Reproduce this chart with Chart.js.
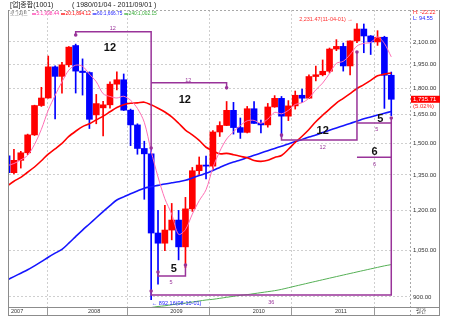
<!DOCTYPE html>
<html>
<head>
<meta charset="utf-8">
<script src="https://cdn.jsdelivr.net/npm/chart.js@4.4.0/dist/chart.umd.min.js"></script>
<style>
  html, body { margin: 0; padding: 0; background: #fff; }
  canvas { display: block; }
</style>
</head>
<body>
<canvas id="myChart" width="450" height="326"></canvas>
<script>
"use strict";

// monthly candles, index 0 = 2007-01 ... index 56 = 2011-09
const openPrices = [
  1438, 1360, 1417, 1453, 1542, 1700, 1743, 1933, 1873, 1946, 2075, 1906,
  1897, 1648, 1687, 1704, 1825, 1852, 1674, 1594, 1474, 1448, 1113, 1076,
  1124, 1162, 1063, 1206, 1369, 1395, 1390, 1557, 1591, 1673, 1580, 1555,
  1682, 1602, 1594, 1692, 1741, 1641, 1698, 1759, 1742, 1872, 1883, 1905,
  2051, 2069, 1939, 2107, 2192, 2142, 2100, 2133, 1880
];
const highPrices = [
  1440, 1470, 1460, 1546, 1702, 1806, 2004, 1940, 1963, 2068, 2085, 1985,
  1901, 1764, 1724, 1840, 1901, 1888, 1680, 1600, 1510, 1480, 1200, 1220,
  1228, 1200, 1253, 1384, 1433, 1437, 1564, 1611, 1723, 1718, 1631, 1695,
  1723, 1620, 1712, 1757, 1752, 1728, 1784, 1796, 1882, 1938, 1978, 2058,
  2116, 2092, 2107, 2231.47, 2229, 2145, 2180, 2140, 1900
];
const lowPrices = [
  1345, 1354, 1381, 1444, 1539, 1695, 1742, 1626, 1772, 1933, 1772, 1760,
  1575, 1600, 1537, 1685, 1791, 1672, 1488, 1446, 1245, 892.16, 939, 1050,
  1088, 1018, 992, 1196, 1352, 1332, 1375, 1534, 1590, 1546, 1524, 1552,
  1602, 1552, 1582, 1690, 1532, 1617, 1680, 1716, 1740, 1845, 1876, 1894,
  2040, 1906, 1882, 2095, 2026, 2014, 2076, 1684, 1644
];
const closePrices = [
  1360, 1417, 1453, 1542, 1700, 1743, 1933, 1873, 1946, 2064, 1906, 1897,
  1624, 1711, 1704, 1825, 1852, 1674, 1594, 1474, 1448, 1113, 1076, 1124,
  1162, 1063, 1206, 1369, 1395, 1390, 1557, 1591, 1673, 1580, 1555, 1682,
  1602, 1594, 1692, 1741, 1641, 1698, 1759, 1742, 1872, 1883, 1905, 2051,
  2069, 1939, 2107, 2192, 2142, 2100, 2133, 1880, 1735.71
];

// moving averages
const ma5 = [
  1392, 1402, 1419, 1441, 1494, 1571, 1674, 1758, 1839, 1912, 1944, 1937,
  1887, 1840, 1768, 1752, 1743, 1753, 1730, 1684, 1608, 1461, 1341, 1247,
  1185, 1108, 1126, 1185, 1239, 1285, 1383, 1460, 1521, 1558, 1591, 1616,
  1618, 1603, 1625, 1662, 1654, 1673, 1706, 1716, 1742, 1791, 1832, 1891,
  1956, 1969, 2014, 2072, 2090, 2096, 2135, 2089, 1998.44
];
const ma20 = [
  1301, 1322, 1339, 1362, 1386, 1415, 1447, 1472, 1499, 1534, 1561, 1585,
  1600, 1621, 1641, 1665, 1689, 1705, 1713, 1715, 1719, 1704, 1685, 1664,
  1637, 1603, 1567, 1542, 1514, 1480, 1463, 1448, 1450, 1444, 1436, 1429,
  1416, 1412, 1417, 1431, 1440, 1470, 1504, 1535, 1570, 1611, 1646, 1680,
  1714, 1741, 1769, 1799, 1822, 1848, 1877, 1887, 1894.12
];
const ma60 = [
  952, 963, 974, 985, 998, 1012, 1027, 1041, 1054, 1076, 1100, 1124,
  1147, 1171, 1195, 1219, 1242, 1255, 1268, 1280, 1292, 1298, 1304, 1310,
  1315, 1320, 1326, 1336, 1347, 1357, 1370, 1384, 1398, 1409, 1419, 1430,
  1441, 1452, 1463, 1474, 1485, 1496, 1508, 1519, 1531, 1542, 1554, 1566,
  1578, 1590, 1602, 1614, 1627, 1637, 1647, 1657, 1666.75
];
const ma240 = [
  null, null, null, null, null, null, null, null, null, null, null, null,
  null, null, null, null, null, null, null, 858, 866, 869, 872, 874,
  877, 880, 882, 885, 888, 891, 893, 896, 899, 902, 905, 907,
  910, 913, 916, 919, 923, 928, 933, 938, 943, 948, 953, 958,
  963, 968, 973, 978, 983, 988, 993, 998, 1002.15
];

const yearLabels = ["2007", "2008", "2009", "2010", "2011"];
const yearBreaks = [11.5, 23.5, 35.5, 47.5];
const priceTicks = [900, 1050, 1200, 1350, 1500, 1650, 1800, 1950, 2100];

// period brackets drawn over the candles (month index, price)
const purple = "#993399";
const bracketLines = [
  [[10, 2149], [10, 2172], [21, 2172], [21, 1476]],
  [[21, 1833], [32, 1833], [32, 1803]],
  [[22, 978], [22, 965], [26, 965], [26, 1001]],
  [[21, 918], [21, 906], [56, 906], [56, 1631]],
  [[40, 1541], [40, 1516], [51, 1516], [51, 2031]],
  [[51, 1604], [56, 1604]],
  [[51, 1432], [56, 1432]]
];
const bracketDots = [[10, 2149], [21, 1476], [32, 1803], [22, 978], [26, 1001],
  [21, 918], [56, 1631], [40, 1541], [51, 2031]];
const bracketNotes = [
  ["12", 15.4, 2197, false], ["12", 15.0, 2056, true],
  ["12", 26.4, 1848, false], ["12", 25.9, 1729, true],
  ["5", 23.9, 943, false], ["5", 24.3, 989, true],
  ["36", 38.5, 885, false],
  ["12", 46.0, 1481, false], ["12", 46.0, 1560, true],
  ["5", 53.9, 1568, false], ["5", 54.4, 1628, true],
  ["6", 53.55, 1399, false], ["6", 53.55, 1459, true]
];

const upColor = "#ff0000";
const downColor = "#0000ff";
const candleColors = closePrices.map((c, i) => (c >= openPrices[i] ? upColor : downColor));
const numFont = "'Liberation Sans', 'Noto Sans CJK KR', sans-serif";

function series(arr) {
  return arr.map((v, i) => ({ x: i, y: v })).filter((p) => p.y !== null);
}
function fmt(v) {
  return v.toLocaleString("en-US", { minimumFractionDigits: 2, maximumFractionDigits: 2 });
}

const overlay = {
  id: "overlay",
  afterDatasetsDraw(chart) {
    const ctx = chart.ctx;
    const xs = chart.scales.x;
    const ys = chart.scales.y;
    const px = (i) => xs.getPixelForValue(i);
    const py = (v) => ys.getPixelForValue(v);
    ctx.save();
    ctx.strokeStyle = purple;
    ctx.fillStyle = purple;
    ctx.lineWidth = 1.5;
    bracketLines.forEach((pts) => {
      ctx.beginPath();
      pts.forEach((p, k) => {
        if (k === 0) ctx.moveTo(px(p[0]), py(p[1]));
        else ctx.lineTo(px(p[0]), py(p[1]));
      });
      ctx.stroke();
    });
    bracketDots.forEach((p) => {
      ctx.beginPath();
      ctx.arc(px(p[0]), py(p[1]), 1.8, 0, Math.PI * 2);
      ctx.fill();
    });
    ctx.textAlign = "center";
    ctx.textBaseline = "middle";
    bracketNotes.forEach((n) => {
      if (n[3]) {
        ctx.font = "bold 11px " + numFont;
        ctx.fillStyle = "#111";
      } else {
        ctx.font = "5.5px " + numFont;
        ctx.fillStyle = purple;
      }
      ctx.fillText(n[0], px(n[1]), py(n[2]));
    });
    // high / low notes
    ctx.font = "5.5px " + numFont;
    ctx.fillStyle = "#ff3030";
    ctx.textAlign = "right";
    ctx.fillText("2,231.47(11-04-01) \u2192", px(50.4), py(2262));
    ctx.fillStyle = "#2020ff";
    ctx.textAlign = "left";
    ctx.fillText("\u2190 892.16(08-10-01)", px(21.1), py(882));
    ctx.restore();
  },
  afterDraw(chart) {
    const ctx = chart.ctx;
    const area = chart.chartArea;
    const ys = chart.scales.y;
    ctx.save();
    // frame
    ctx.lineWidth = 1;
    ctx.strokeStyle = "#a8a8a8";
    ctx.setLineDash([2, 2]);
    ctx.beginPath();
    ctx.moveTo(8, area.top + 0.5);
    ctx.lineTo(440, area.top + 0.5);
    ctx.moveTo(area.right + 0.5, area.top);
    ctx.lineTo(area.right + 0.5, 316);
    ctx.stroke();
    ctx.setLineDash([]);
    ctx.strokeStyle = "#8c8c8c";
    ctx.beginPath();
    ctx.moveTo(8.5, area.top);
    ctx.lineTo(8.5, 316);
    ctx.moveTo(439.5, area.top);
    ctx.lineTo(439.5, 316);
    ctx.moveTo(8, 315.5);
    ctx.lineTo(440, 315.5);
    ctx.moveTo(8, area.bottom + 0.5);
    ctx.lineTo(440, area.bottom + 0.5);
    ctx.stroke();

    // title row
    ctx.fillStyle = "#222";
    ctx.textBaseline = "middle";
    ctx.textAlign = "left";
    ctx.font = "7px " + numFont;
    ctx.fillText("[업]종합(1001)", 10, 5);
    ctx.fillText("( 1980/01/04 - 2011/09/01 )", 72, 5);

    // moving average legend row
    ctx.font = "4.8px " + numFont;
    ctx.fillStyle = "#555";
    ctx.fillText("로그차트", 10, 14);
    const legendItems = [
      ["5", ma5, "#ff33aa"],
      ["20", ma20, "#ff0000"],
      ["60", ma60, "#2222ff"],
      ["240", ma240, "#33aa33"]
    ];
    let lx = 32;
    legendItems.forEach((it) => {
      const txt = it[0] + ":" + fmt(it[1][it[1].length - 1]);
      ctx.strokeStyle = it[2];
      ctx.lineWidth = 1.3;
      ctx.beginPath();
      ctx.moveTo(lx, 14);
      ctx.lineTo(lx + 4, 14);
      ctx.stroke();
      ctx.fillStyle = it[2];
      ctx.fillText(txt, lx + 4.5, 14);
      lx += 4.5 + ctx.measureText(txt).width + 1.8;
    });

    // high / low change in the axis panel
    ctx.font = "5.5px " + numFont;
    ctx.fillStyle = "#ff2020";
    ctx.fillText("H: -22.22", 413, 12.5);
    ctx.fillStyle = "#2020ff";
    ctx.fillText("L: 94.55", 413, 18);

    // last price box
    const last = closePrices[closePrices.length - 1];
    const ly = ys.getPixelForValue(last);
    ctx.fillStyle = "#ff0000";
    ctx.fillRect(area.right + 1, ly - 3.5, 29, 7);
    ctx.fillStyle = "#fff";
    ctx.font = "6px " + numFont;
    ctx.fillText(fmt(last), 413, ly);
    ctx.fillStyle = "#ff2020";
    ctx.fillText("(5.02%)", 413, ly + 7.5);

    // corner label
    ctx.fillStyle = "#444";
    ctx.font = "5.5px " + numFont;
    ctx.fillText("월간", 416, 311.5);
    ctx.restore();
  }
};

const config = {
  type: "bar",
  data: {
    datasets: [
      {
        type: "line", data: series(ma5), borderColor: "#ff6fb5", borderWidth: 1,
        pointRadius: 0, tension: 0.3, order: 1, clip: 0
      },
      {
        type: "line", data: series(ma20), borderColor: "#ff0000", borderWidth: 1.6,
        pointRadius: 0, tension: 0.3, order: 2, clip: 0
      },
      {
        type: "line", data: series(ma60), borderColor: "#1515ff", borderWidth: 1.6,
        pointRadius: 0, tension: 0.3, order: 3, clip: 0
      },
      {
        type: "line", data: series(ma240), borderColor: "#55b055", borderWidth: 1,
        pointRadius: 0, tension: 0.3, order: 4, clip: 0
      },
      {
        type: "bar",
        data: closePrices.map((c, i) => ({ x: i, y: [openPrices[i], c] })),
        backgroundColor: candleColors, barThickness: 6, minBarLength: 1,
        grouped: false, order: 5, clip: 0
      },
      {
        type: "bar",
        data: closePrices.map((c, i) => ({ x: i, y: [lowPrices[i], highPrices[i]] })),
        backgroundColor: candleColors, barThickness: 1,
        grouped: false, order: 6, clip: 0
      }
    ]
  },
  options: {
    responsive: false,
    animation: false,
    devicePixelRatio: 1,
    layout: { padding: { left: 9, top: 10, right: 10, bottom: 10 } },
    plugins: { legend: { display: false }, tooltip: { enabled: false } },
    scales: {
      x: {
        type: "linear",
        min: 0.28,
        max: 58.73,
        offset: false,
        afterBuildTicks: (s) => {
          s.ticks = [s.min].concat(yearBreaks).map((v) => ({ value: v }));
        },
        afterFit: (s) => { s.height = 9; },
        grid: { color: "#cfcfcf", tickLength: 8, tickColor: "#9a9a9a" },
        border: { display: false, dash: [2, 2] },
        ticks: {
          autoSkip: false, maxRotation: 0, align: "start", padding: -7, labelOffset: 2,
          font: { size: 5.5, family: numFont }, color: "#333",
          callback: (v, idx) => yearLabels[idx]
        }
      },
      y: {
        type: "logarithmic",
        position: "right",
        min: 870.5,
        max: 2335,
        afterBuildTicks: (s) => {
          s.ticks = priceTicks.map((v) => ({ value: v }));
        },
        afterFit: (s) => { s.width = 30; },
        grid: { color: "#cfcfcf", drawTicks: false },
        border: { display: false, dash: [2, 2] },
        ticks: {
          padding: 3, font: { size: 6, family: numFont }, color: "#333",
          callback: (v) => fmt(v)
        }
      }
    }
  },
  plugins: [overlay]
};

const myChart = new Chart(document.getElementById("myChart"), config);
</script>
</body>
</html>
